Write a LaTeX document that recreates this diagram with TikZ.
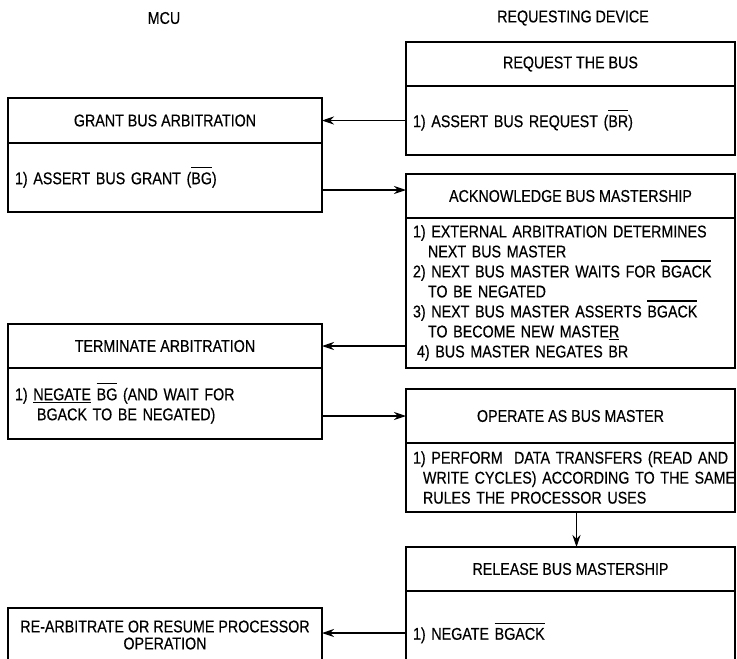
\documentclass[tikz,border=0pt]{standalone}
\usepackage{fontspec}
\setmainfont{Liberation Sans}[FakeStretch=0.84, FakeBold=0.4]
\usetikzlibrary{arrows.meta,positioning}
\tikzstyle{boxhead}=[draw, line width=1.5pt, outer sep=0pt, inner sep=0pt, minimum height=44pt, anchor=north west]
\tikzstyle{boxbody}=[draw, line width=1.5pt, outer sep=0pt, inner xsep=7pt, inner ysep=0pt, align=left]
\tikzstyle{mcuhead}=[boxhead, minimum width=314pt]
\tikzstyle{devhead}=[boxhead, minimum width=329pt]
\tikzstyle{mcubody}=[boxbody, text width=300pt]
\tikzstyle{devbody}=[boxbody, text width=315pt]
% active low signal name
\newcommand{\ovl}[1]{\setbox0\hbox{#1}\rlap{\rule[\dimexpr\ht0+4pt\relax]{\wd0}{1.1pt}}\box0\relax}

\begin{document}
\begin{tikzpicture}[x=1pt, y=-1pt, >={Stealth[length=12pt,width=8pt,inset=4pt]},
  font=\fontsize{17pt}{20pt}\selectfont]
\useasboundingbox (0,0) rectangle (737,659);
\clip (0,0) rectangle (737,659);

\node (mcu) at (164,18) {MCU};
\node (dev) at (573,18) {REQUESTING DEVICE};

% requesting device
\node [devhead] (reqT) at (406,42) {REQUEST THE BUS};
\node [devbody, minimum height=69pt, below=0pt of reqT] (reqB) {1) ASSERT BUS REQUEST (\ovl{BR})};
\node [devhead] (ackT) at (406,174) {ACKNOWLEDGE BUS MASTERSHIP};
\node [devbody, minimum height=150pt, below=0pt of ackT] (ackB) {1) EXTERNAL ARBITRATION DETERMINES\\
    \hspace*{15pt}NEXT BUS MASTER\\
    2) NEXT BUS MASTER WAITS FOR \ovl{BGACK}\\
    \hspace*{15pt}TO BE NEGATED\\
    3) NEXT BUS MASTER ASSERTS \ovl{BGACK}\\
    \hspace*{15pt}TO BECOME NEW MASTE\underline{R}\\
    \hspace*{4pt}4) BUS MASTER NEGATES BR};
\node [devhead, minimum height=54pt] (operT) at (406,389) {OPERATE AS BUS MASTER};
\node [devbody, minimum height=69pt, below=0pt of operT] (operB) {\mbox{1) PERFORM\ \ DATA TRANSFERS (READ AND}\\
    \mbox{\hspace*{10pt}WRITE CYCLES) ACCORDING TO THE SAME}\\
    \hspace*{10pt}RULES THE PROCESSOR USES};
\node [devhead] (relT) at (406,547) {RELEASE BUS MASTERSHIP};
\node [devbody, minimum height=84pt, below=0pt of relT] (relB) {1) NEGATE \ovl{BGACK}};

% mcu
\node [mcuhead, minimum height=45pt] (grantT) at (8,98) {GRANT BUS ARBITRATION};
\node [mcubody, minimum height=69pt, below=0pt of grantT] (grantB) {1) ASSERT BUS GRANT (\ovl{BG})};
\node [mcuhead] (termT) at (8,324) {TERMINATE ARBITRATION};
\node [mcubody, minimum height=71pt, below=0pt of termT] (termB) {1) \underline{NEGATE} \ovl{BG} (AND WAIT FOR\\
    \hspace*{22pt}BGACK TO BE NEGATED)};
\node [mcuhead, minimum height=54pt, align=center, font=\fontsize{17pt}{17pt}\selectfont] (rearb) at (8,608) {RE-ARBITRATE OR RESUME PROCESSOR\\OPERATION};

\draw [->, line width=1.1pt] (reqB.west) -- (reqB.west -| grantT.east);
\draw [->, line width=1.1pt] ([yshift=6pt]ackT.west -| grantB.east) -- ([yshift=6pt]ackT.west);
\draw [->, line width=1.1pt] (termT.east -| ackB.west) -- (termT.east);
\draw [->, line width=1.1pt] (operT.west -| termB.east) -- (operT.west);
\draw [->, line width=1.1pt] ([xshift=6pt]operB.south) -- ([xshift=6pt]relT.north);
\draw [->, line width=1.1pt] (relB.west) -- (relB.west -| rearb.east);
\end{tikzpicture}
\end{document}
